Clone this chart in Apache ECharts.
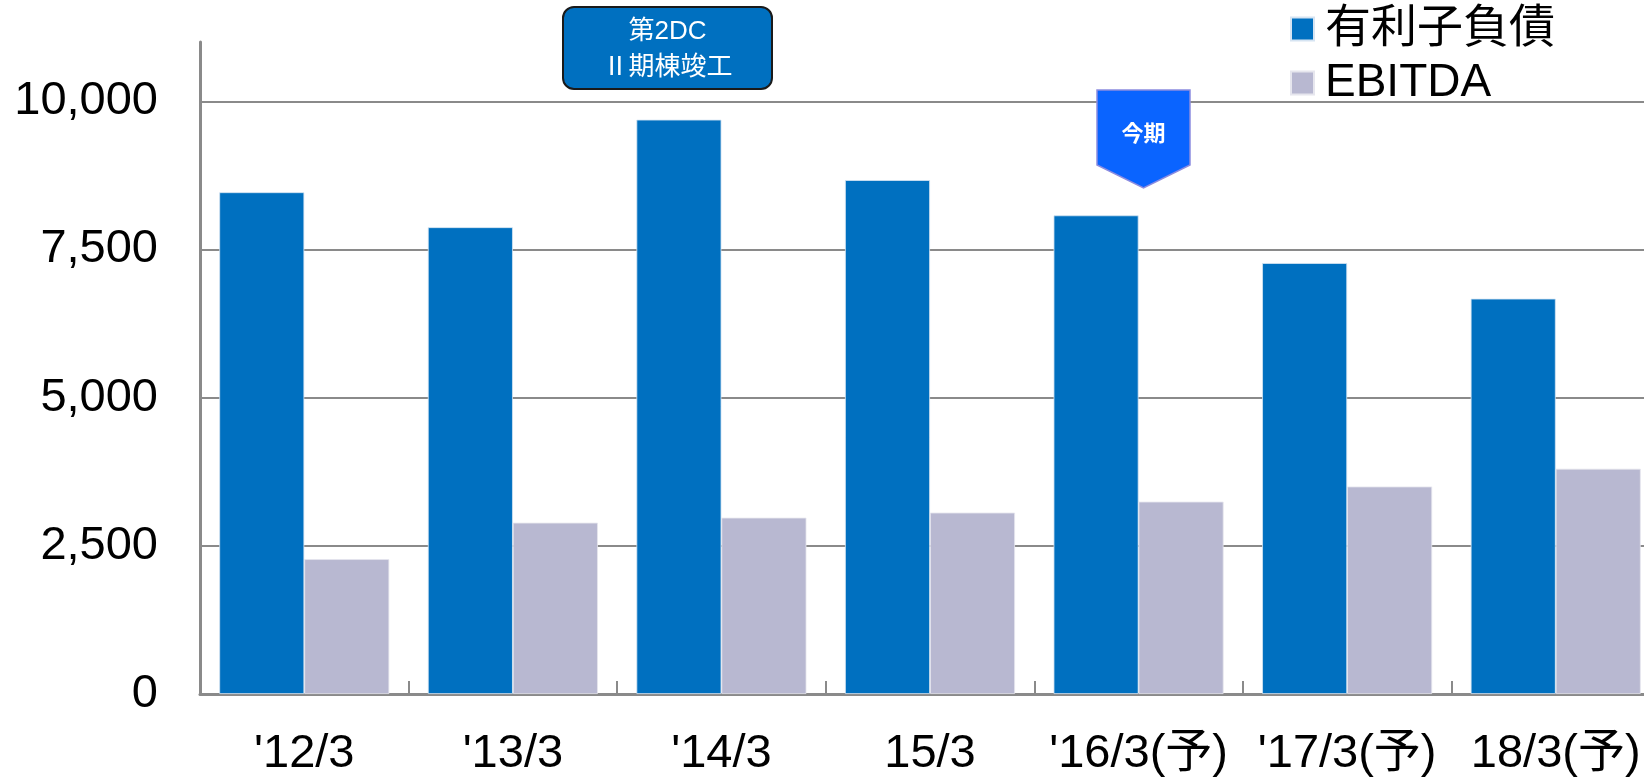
<!DOCTYPE html>
<html><head><meta charset="utf-8">
<script src="https://cdn.jsdelivr.net/npm/echarts@6/dist/echarts.min.js"></script>
<style>html,body{margin:0;padding:0;background:#fff}#c{width:1644px;height:780px}</style>
</head><body><div id="c"></div>
<script>
const categories = ["'12/3", "'13/3", "'14/3", "15/3", "'16/3(予)", "'17/3(予)", "18/3(予)"];
const debt = [8465, 7875, 9690, 8670, 8075, 7270, 6670];
const ebitda = [2275, 2890, 2975, 3060, 3245, 3500, 3800];
const seriesNames = ['有利子負債', 'EBITDA'];
const yMin = 0, yMax = 11000, yInterval = 2500;
const annotationLines = ['第2DC', 'Ⅱ期棟竣工'];
const markerText = '今期';

const FONT = "'Liberation Sans', Arial, 'Noto Sans CJK JP', sans-serif";
const CJK = "'Noto Sans CJK JP', 'Liberation Sans', sans-serif";
const GRID_COLOR = '#8a8a8a';

const chart = echarts.init(document.getElementById('c'), null, {renderer: 'canvas'});
chart.setOption({
  backgroundColor: '#fff',
  animation: false,
  grid: {left: 200, top: 42, width: 1460, bottom: 86, containLabel: false, outerBoundsMode: 'none'},
  legend: {
    orient: 'vertical', left: 1290, top: 6, padding: 0, itemWidth: 23, itemHeight: 23, itemGap: 8,
    icon: 'rect',
    textStyle: {fontSize: 46, lineHeight: 46, color: '#000', fontFamily: FONT, padding: [0, 0, 0, 6]},
    data: seriesNames
  },
  xAxis: {
    type: 'category', data: categories,
    axisLine: {lineStyle: {color: GRID_COLOR, width: 3}},
    axisTick: {show: true, inside: true, length: 13, lineStyle: {color: GRID_COLOR, width: 2}},
    axisLabel: {fontSize: 47, lineHeight: 47, color: '#000', fontFamily: FONT, margin: 37, interval: 0}
  },
  yAxis: {
    type: 'value', min: yMin, max: yMax, interval: yInterval,
    axisLine: {show: true, lineStyle: {color: GRID_COLOR, width: 3}},
    axisTick: {show: false},
    splitLine: {show: true, showMaxLine: false, lineStyle: {color: GRID_COLOR, width: 2}},
    axisLabel: {
      fontSize: 47, color: '#000', fontFamily: FONT, margin: 42, showMaxLabel: false,
      formatter: v => v.toLocaleString('en-US')
    }
  },
  series: [
    {name: seriesNames[0], type: 'bar', data: debt, barWidth: 85, barGap: '0%',
     itemStyle: {color: '#0070C0', borderColor: '#d6e4f2', borderWidth: 0.8}},
    {name: seriesNames[1], type: 'bar', data: ebitda, barWidth: 85,
     itemStyle: {color: '#B8B8D1', borderColor: '#e6e6ee', borderWidth: 0.8}}
  ],
  graphic: [
    {type: 'rect', z: 100, shape: {x: 563, y: 7, width: 209, height: 82, r: 11},
     style: {fill: '#0070C0', stroke: '#1a1a1a', lineWidth: 2}},
    {type: 'text', z: 101, x: 667.5, y: 31.5,
     style: {text: annotationLines[0], fill: '#fff', font: "26px " + FONT, align: 'center', verticalAlign: 'middle'}},
    {type: 'text', z: 101, x: 667.5, y: 65.5,
     style: {text: annotationLines[1], fill: '#fff', font: "26px " + CJK, align: 'center', verticalAlign: 'middle'}},
    {type: 'polygon', z: 100,
     shape: {points: [[1097, 90], [1190, 90], [1190, 165], [1143.5, 188], [1097, 165]]},
     style: {fill: '#0A64FF', stroke: '#8c8ce0', lineWidth: 1.5}},
    {type: 'text', z: 101, x: 1143.5, y: 133,
     style: {text: markerText, fill: '#fff', font: "bold 22px " + CJK, align: 'center', verticalAlign: 'middle'}}
  ]
});
</script></body></html>
